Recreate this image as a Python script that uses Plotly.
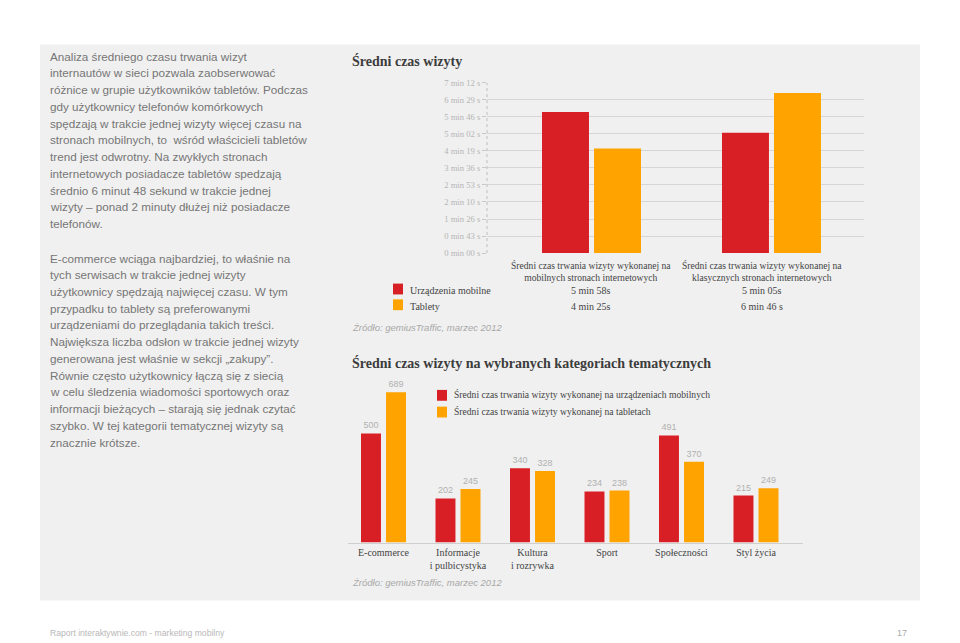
import plotly.graph_objects as go

W, H = 960, 643

# ---------------- data ----------------
# Chart 1: average visit time (seconds)
visit_groups = ["Mobilne strony", "Klasyczne strony"]
visit_group_labels = ["Średni czas trwania wizyty wykonanej na<br>mobilnych stronach internetowych",
                      "Średni czas trwania wizyty wykonanej na<br>klasycznych stronach internetowych"]
mobile_seconds = [358, 305]
tablet_seconds = [265, 406]
mobile_labels = ["5 min 58s", "5 min 05s"]
tablet_labels = ["4 min 25s", "6 min 46 s"]
time_tick_seconds = [0, 43.2, 86.4, 129.6, 172.8, 216, 259.2, 302.4, 345.6, 388.8, 432]
time_tick_labels = ["0 min 00 s", "0 min 43 s", "1 min 26 s", "2 min 10 s", "2 min 53 s",
                    "3 min 36 s", "4 min 19 s", "5 min 02 s", "5 min 46 s", "6 min 29 s", "7 min 12 s"]

# Chart 2: visit time per category (seconds)
categories = ["E-commerce", "Informacje<br>i pulbicystyka", "Kultura<br>i rozrywka",
              "Sport", "Społeczności", "Styl życia"]
cat_mobile = [500, 202, 340, 234, 491, 215]
cat_tablet = [689, 245, 328, 238, 370, 249]

# ---------------- styles ----------------
RED = "#d91f26"
ORANGE = "#ffa300"
PANEL = "#f0f0f0"
SERIF = "Liberation Serif"
SANS = "Liberation Sans"


def px(x):
    return x / W


def py(y):
    return 1 - y / H


fig = go.Figure()

# Chart 1 bars
fig.add_trace(go.Bar(x=visit_groups, y=mobile_seconds, marker_color=RED, marker_line_width=0,
                     width=0.261, offset=-0.275, xaxis="x", yaxis="y", hoverinfo="skip",
                     showlegend=False))
fig.add_trace(go.Bar(x=visit_groups, y=tablet_seconds, marker_color=ORANGE, marker_line_width=0,
                     width=0.261, offset=0.014, xaxis="x", yaxis="y", hoverinfo="skip",
                     showlegend=False))

# Chart 2 bars
lbl_font = dict(family=SANS, size=9, color="#b0b0b0")
fig.add_trace(go.Bar(x=categories, y=cat_mobile, marker_color=RED, marker_line_width=0,
                     width=0.268, offset=-0.302, xaxis="x2", yaxis="y2",
                     text=cat_mobile, textposition="outside", textfont=lbl_font,
                     constraintext="none", cliponaxis=False, hoverinfo="skip", showlegend=False))
fig.add_trace(go.Bar(x=categories, y=cat_tablet, marker_color=ORANGE, marker_line_width=0,
                     width=0.268, offset=0.034, xaxis="x2", yaxis="y2",
                     text=cat_tablet, textposition="outside", textfont=lbl_font,
                     constraintext="none", cliponaxis=False, hoverinfo="skip", showlegend=False))

shapes = [
    # gray panel
    dict(type="rect", xref="paper", yref="paper", x0=px(40), x1=px(920), y0=py(605), y1=py(40),
         fillcolor=PANEL, line_width=0, layer="below"),
    # dotted y-axis of chart 1
    dict(type="line", xref="x domain", yref="y", x0=0, x1=0, y0=0, y1=432,
         line=dict(color="#bdbdbd", width=1, dash="dot")),
    # legend squares chart 1
    dict(type="rect", xref="paper", yref="paper", x0=px(393), x1=px(403), y0=py(294), y1=py(283),
         fillcolor=RED, line_width=0),
    dict(type="rect", xref="paper", yref="paper", x0=px(393), x1=px(403), y0=py(310), y1=py(299),
         fillcolor=ORANGE, line_width=0),
    # legend squares chart 2
    dict(type="rect", xref="paper", yref="paper", x0=px(437), x1=px(447), y0=py(402), y1=py(391),
         fillcolor=RED, line_width=0),
    dict(type="rect", xref="paper", yref="paper", x0=px(437), x1=px(447), y0=py(419), y1=py(408),
         fillcolor=ORANGE, line_width=0),
]

annotations = []


def add_text(x, y, text, size, color, family=SANS, xanchor="left", yanchor="middle", align="left"):
    annotations.append(dict(x=px(x), y=py(y), xref="paper", yref="paper", text=text,
                            showarrow=False, xanchor=xanchor, yanchor=yanchor, align=align,
                            font=dict(family=family, size=size, color=color)))


# left column text
para1 = [
    "Analiza średniego czasu trwania wizyt",
    "internautów w sieci pozwala zaobserwować",
    "różnice w grupie użytkowników tabletów. Podczas",
    "gdy użytkownicy telefonów komórkowych",
    "spędzają w trakcie jednej wizyty więcej czasu na",
    "stronach mobilnych, to  wśród właścicieli tabletów",
    "trend jest odwrotny. Na zwykłych stronach",
    "internetowych posiadacze tabletów spedzają",
    "średnio 6 minut 48 sekund w trakcie jednej",
    "wizyty – ponad 2 minuty dłużej niż posiadacze",
    "telefonów.",
]
para2 = [
    "E-commerce wciąga najbardziej, to właśnie na",
    "tych serwisach w trakcie jednej wizyty",
    "użytkownicy spędzają najwięcej czasu. W tym",
    "przypadku to tablety są preferowanymi",
    "urządzeniami do przeglądania takich treści.",
    "Największa liczba odsłon w trakcie jednej wizyty",
    "generowana jest właśnie w sekcji „zakupy”.",
    "Równie często użytkownicy łączą się z siecią",
    "w celu śledzenia wiadomości sportowych oraz",
    "informacji bieżących – starają się jednak czytać",
    "szybko. W tej kategorii tematycznej wizyty są",
    "znacznie krótsze.",
]
for i, line in enumerate(para1):
    add_text(48, 52 + 17.0 * i, line, 11.7, "#767676")
for i, line in enumerate(para2):
    add_text(48, 257 + 17.0 * i, line, 11.7, "#767676")

# titles
add_text(350, 57, "<b>Średni czas wizyty</b>", 14, "#3c3c3c", family=SERIF)
add_text(350, 364, "<b>Średni czas wizyty na wybranych kategoriach tematycznych</b>", 14,
         "#3c3c3c", family=SERIF)

# chart 1 category labels and table
for cx, lab in zip([591, 762], visit_group_labels):
    add_text(cx, 271, lab, 9.6, "#444444", family=SERIF, xanchor="center", align="center")
add_text(408, 290, "Urządzenia mobilne", 10, "#444444", family=SERIF)
add_text(408, 306, "Tablety", 10, "#444444", family=SERIF)
for cx, m, t in zip([591, 762], mobile_labels, tablet_labels):
    add_text(cx, 290, m, 10, "#444444", family=SERIF, xanchor="center")
    add_text(cx, 306, t, 10, "#444444", family=SERIF, xanchor="center")

# chart 2 legend
add_text(452, 396, "Średni czas trwania wizyty wykonanej na urządzeniach mobilnych", 9.6,
         "#444444", family=SERIF)
add_text(452, 413, "Średni czas trwania wizyty wykonanej na tabletach", 9.6, "#444444",
         family=SERIF)

# sources
add_text(350, 328, "<i>Źródło: gemiusTraffic, marzec 2012</i>", 9.5, "#a8a8a8")
add_text(350, 587, "<i>Źródło: gemiusTraffic, marzec 2012</i>", 9.5, "#a8a8a8")

# footer
add_text(48, 638, "Raport interaktywnie.com - marketing mobilny", 8.6, "#b8b8b8")
add_text(909, 638, "17", 9, "#aaaaaa", xanchor="right")

fig.update_layout(
    width=W, height=H,
    margin=dict(l=0, r=0, t=0, b=0),
    paper_bgcolor="white",
    plot_bgcolor="rgba(0,0,0,0)",
    barmode="overlay",
    showlegend=False,
    shapes=shapes,
    annotations=annotations,
    xaxis=dict(domain=[px(487), px(864)], range=[-0.5806, 1.514], showticklabels=False,
               showgrid=False, zeroline=False, showline=False, ticks="", fixedrange=True,
               anchor="y"),
    yaxis=dict(domain=[py(252), py(79)], range=[0, 432], tickvals=time_tick_seconds,
               ticktext=time_tick_labels, showgrid=True, gridcolor="#d6d6d6", gridwidth=1,
               zeroline=False, showline=False, ticks="outside", ticklen=4, tickcolor="#c8c8c8",
               tickfont=dict(family=SERIF, size=8.6, color="#b5b5b5"), fixedrange=True,
               anchor="x"),
    xaxis2=dict(domain=[px(348), px(803)], range=[-0.4765, 5.631], showgrid=False,
                zeroline=False, showline=True, linecolor="#cfcfcf", linewidth=1, ticks="",
                tickfont=dict(family=SERIF, size=10, color="#444444"), fixedrange=True,
                anchor="y2"),
    yaxis2=dict(domain=[py(546), py(380)], range=[0, 749.4], visible=False, fixedrange=True,
                anchor="x2"),
)

fig.write_html("out.html")
